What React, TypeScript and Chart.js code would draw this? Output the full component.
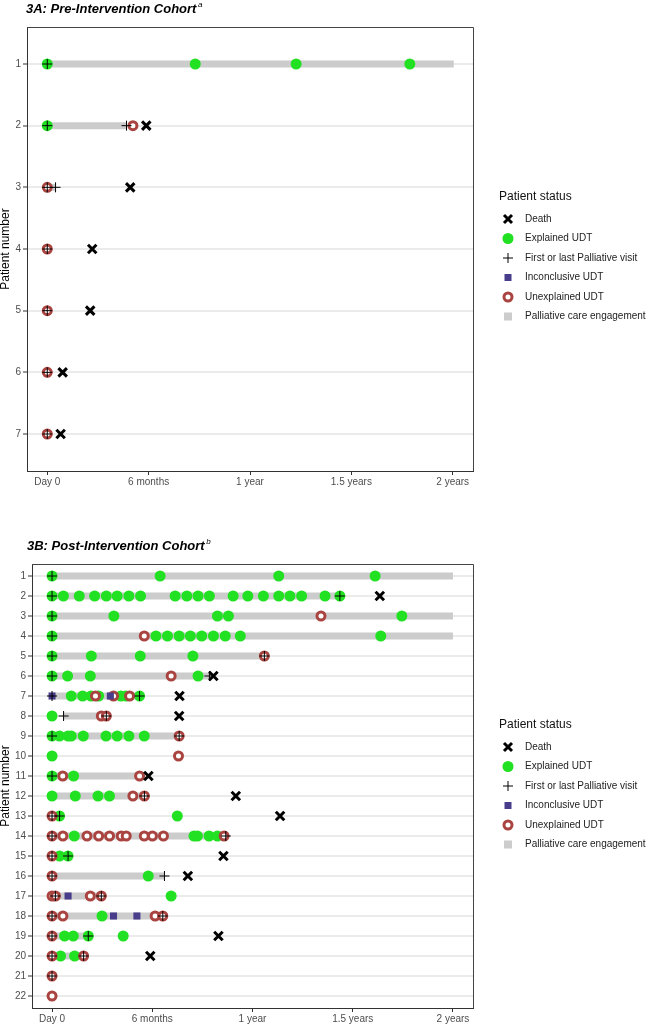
import React, { useEffect, useRef } from 'react';
import { Chart, registerables } from 'chart.js';

Chart.register(...registerables);

type Pt = [number, number]; // [patient, months since day 0]
type Span = [number, number, number]; // [patient, start month, end month]

const FONT = '"Liberation Sans", Arial, Helvetica, sans-serif';

const xTickValues = [0, 6, 12, 18, 24];
const xTickLabels = ['Day 0', '6 months', '1 year', '1.5 years', '2 years'];

const legendLabels = [
  'Death',
  'Explained UDT',
  'First or last Palliative visit',
  'Inconclusive UDT',
  'Unexplained UDT',
  'Palliative care engagement',
];

// ---------- 3A: Pre-Intervention Cohort ----------
const prePatients = [1, 2, 3, 4, 5, 6, 7];
const preEngagement: Span[] = [[1, 0, 24.06], [2, 0, 4.69], [3, 0, 0.49]];
const preExplained: Pt[] = [[1, 0], [1, 8.76], [1, 14.73], [1, 21.46], [2, 0]];
const preUnexplained: Pt[] = [[2, 5.07], [3, 0], [4, 0], [5, 0], [6, 0], [7, 0]];
const preInconclusive: Pt[] = [];
const preVisits: Pt[] = [[1, 0], [2, 0], [2, 4.69], [3, 0], [3, 0.49], [4, 0], [5, 0], [6, 0], [7, 0]];
const preDeaths: Pt[] = [[2, 5.86], [3, 4.91], [4, 2.66], [5, 2.54], [6, 0.91], [7, 0.79]];

// ---------- 3B: Post-Intervention Cohort ----------
const postPatients = [1, 2, 3, 4, 5, 6, 7, 8, 9, 10, 11, 12, 13, 14, 15, 16, 17, 18, 19, 20, 21, 22];
const postEngagement: Span[] = [
  [1, 0, 24], [2, 0, 17.23], [3, 0, 24], [4, 0, 24], [5, 0, 12.71], [6, 0, 9.42], [7, 0, 5.24],
  [8, 0.69, 3.25], [9, 0, 7.61], [11, 0, 5.24], [12, 0, 5.53], [13, 0, 0.45], [14, 0, 10.4],
  [15, 0, 0.96], [16, 0, 6.73], [17, 0.2, 2.95], [18, 0, 6.63], [19, 0, 2.17], [20, 0, 1.89],
];
const postExplained: Pt[] = [
  [1, 0], [1, 6.47], [1, 13.57], [1, 19.34],
  [2, 0], [2, 0.68], [2, 1.63], [2, 2.55], [2, 3.25], [2, 3.9], [2, 4.6], [2, 5.3], [2, 7.37], [2, 8.07],
  [2, 8.74], [2, 9.42], [2, 10.84], [2, 11.72], [2, 12.65], [2, 13.57], [2, 14.24], [2, 14.94], [2, 16.34], [2, 17.23],
  [3, 0], [3, 3.7], [3, 9.9], [3, 10.56], [3, 20.94],
  [4, 0], [4, 6.22], [4, 6.91], [4, 7.61], [4, 8.28], [4, 8.96], [4, 9.66], [4, 10.37], [4, 11.27], [4, 19.68],
  [5, 0], [5, 2.35], [5, 5.28], [5, 8.43],
  [6, 0], [6, 0.93], [6, 2.29], [6, 8.74],
  [7, 1.15], [7, 1.83], [7, 2.33], [7, 2.79], [7, 4.12], [7, 4.42], [7, 5.24],
  [8, 0],
  [9, 0], [9, 0.45], [9, 0.96], [9, 1.15], [9, 1.87], [9, 3.23], [9, 3.9], [9, 4.6], [9, 5.52],
  [10, 0],
  [11, 0], [11, 1.29],
  [12, 0], [12, 1.39], [12, 2.75], [12, 3.44],
  [13, 0.45], [13, 7.5],
  [14, 1.33], [14, 8.5], [14, 8.7], [14, 9.4], [14, 9.9],
  [15, 0.45], [15, 0.96],
  [16, 5.76],
  [17, 7.13],
  [18, 2.99],
  [19, 0.75], [19, 1.27], [19, 2.17], [19, 4.26],
  [20, 0.51], [20, 1.35],
];
const postUnexplained: Pt[] = [
  [3, 16.1], [4, 5.52], [5, 12.71], [6, 7.13], [7, 2.6], [7, 3.68], [7, 4.64], [8, 2.95], [8, 3.25],
  [9, 7.61], [10, 7.57], [11, 0.64], [11, 5.24], [12, 4.84], [12, 5.53], [13, 0],
  [14, 0], [14, 0.65], [14, 2.09], [14, 2.79], [14, 3.44], [14, 4.14], [14, 4.44], [14, 5.52], [14, 6.01],
  [14, 6.67], [14, 10.3], [15, 0], [16, 0], [17, 0], [17, 0.2], [17, 2.29], [17, 2.95],
  [18, 0], [18, 0.65], [18, 6.17], [18, 6.63], [19, 0], [20, 0], [20, 1.89], [21, 0], [22, 0],
];
const postInconclusive: Pt[] = [[7, 0], [7, 3.49], [17, 0.96], [18, 3.68], [18, 5.08]];
const postVisits: Pt[] = [
  [1, 0], [2, 0], [2, 17.23], [3, 0], [4, 0], [5, 0], [5, 12.71], [6, 0], [6, 9.42], [7, 0], [7, 5.24],
  [8, 0.69], [8, 3.25], [9, 0], [9, 7.61], [11, 0], [12, 5.53], [13, 0], [13, 0.45], [14, 0], [14, 10.4],
  [15, 0], [15, 0.96], [16, 0], [16, 6.73], [17, 0.2], [17, 2.95], [18, 0], [18, 6.63], [19, 0], [19, 2.17],
  [20, 0], [20, 1.89], [21, 0],
];
const postDeaths: Pt[] = [
  [2, 19.62], [6, 9.66], [7, 7.63], [8, 7.61], [11, 5.77], [12, 11.0], [13, 13.65], [15, 10.26],
  [16, 8.13], [19, 9.96], [20, 5.88],
];

// ---------- styles ----------
const GREEN = '#22e022';
const RED = '#a94440';
const BLUE = '#483d8b';
const GRAY = '#cccccc';

const toXY = (arr: Pt[]) => arr.map(([p, t]) => ({ x: t, y: p }));

const decorPlugin = {
  id: 'decor',
  afterDraw(chart: any, _args: any, opts: any) {
    const ctx: CanvasRenderingContext2D = chart.ctx;
    const ca = chart.chartArea;
    ctx.save();
    // top & right frame
    ctx.strokeStyle = '#444';
    ctx.lineWidth = 1;
    ctx.beginPath();
    ctx.moveTo(Math.round(ca.left), Math.round(ca.top) + 0.5);
    ctx.lineTo(Math.round(ca.right) + 0.5, Math.round(ca.top) + 0.5);
    ctx.lineTo(Math.round(ca.right) + 0.5, Math.round(ca.bottom));
    ctx.stroke();

    // panel title
    ctx.fillStyle = '#000';
    ctx.textBaseline = 'middle';
    ctx.textAlign = 'left';
    ctx.font = `italic bold 13px ${FONT}`;
    ctx.fillText(opts.title, opts.titleX, opts.titleY);
    const w = ctx.measureText(opts.title).width;
    ctx.font = `italic 8px ${FONT}`;
    ctx.fillText(opts.sup, opts.titleX + w + 1.5, opts.titleY - 4);

    // legend
    const lx = opts.legendX;
    let y = opts.legendY;
    ctx.font = `12px ${FONT}`;
    ctx.fillStyle = '#111';
    ctx.fillText('Patient status', lx, y);
    y += 22;
    const sx = lx + 9;
    const tx = lx + 26;
    legendLabels.forEach((label, i) => {
      const cy = y + i * 19.5;
      ctx.save();
      if (i === 0) {
        ctx.strokeStyle = '#000';
        ctx.lineWidth = 3;
        ctx.beginPath();
        ctx.moveTo(sx - 4, cy - 4); ctx.lineTo(sx + 4, cy + 4);
        ctx.moveTo(sx - 4, cy + 4); ctx.lineTo(sx + 4, cy - 4);
        ctx.stroke();
      } else if (i === 1) {
        ctx.fillStyle = GREEN;
        ctx.beginPath(); ctx.arc(sx, cy, 5.5, 0, Math.PI * 2); ctx.fill();
      } else if (i === 2) {
        ctx.strokeStyle = '#000';
        ctx.lineWidth = 1;
        ctx.beginPath();
        ctx.moveTo(sx - 5, cy); ctx.lineTo(sx + 5, cy);
        ctx.moveTo(sx, cy - 5); ctx.lineTo(sx, cy + 5);
        ctx.stroke();
      } else if (i === 3) {
        ctx.fillStyle = BLUE;
        ctx.fillRect(sx - 3.5, cy - 3.5, 7, 7);
      } else if (i === 4) {
        ctx.fillStyle = '#fff';
        ctx.strokeStyle = RED;
        ctx.lineWidth = 3;
        ctx.beginPath(); ctx.arc(sx, cy, 4, 0, Math.PI * 2); ctx.fill(); ctx.stroke();
      } else {
        ctx.fillStyle = GRAY;
        ctx.fillRect(sx - 4, cy - 4, 8, 8);
      }
      ctx.restore();
      ctx.font = `10px ${FONT}`;
      ctx.fillStyle = '#222';
      ctx.fillText(label, tx, cy);
    });
    ctx.restore();
  },
};

interface PanelData {
  patients: number[];
  engagement: Span[];
  explained: Pt[];
  unexplained: Pt[];
  inconclusive: Pt[];
  visits: Pt[];
  deaths: Pt[];
  axisWidth: number;
  padding: { left: number; top: number; right: number; bottom: number };
  title: string;
  sup: string;
  titleX: number;
  titleY: number;
  legendX: number;
  legendY: number;
}

function buildConfig(d: PanelData): any {
  const bars = d.engagement.map(([p, s, e]) => ({
    type: 'line',
    data: [{ x: s, y: p }, { x: e, y: p }],
    borderColor: GRAY,
    borderWidth: 7,
    borderCapStyle: 'butt',
    pointRadius: 0,
    showLine: true,
    order: 10,
  }));
  const datasets: any[] = [
    ...bars,
    {
      label: 'Explained UDT',
      data: toXY(d.explained),
      pointStyle: 'circle',
      pointRadius: 5.5,
      pointBackgroundColor: GREEN,
      pointBorderWidth: 0,
      order: 5,
    },
    {
      label: 'Unexplained UDT',
      data: toXY(d.unexplained),
      pointStyle: 'circle',
      pointRadius: 4,
      pointBackgroundColor: '#ffffff',
      pointBorderColor: RED,
      pointBorderWidth: 3,
      order: 4,
    },
    {
      label: 'Inconclusive UDT',
      data: toXY(d.inconclusive),
      pointStyle: 'rect',
      pointRadius: 5,
      pointBackgroundColor: BLUE,
      pointBorderWidth: 0,
      order: 3,
    },
    {
      label: 'First or last Palliative visit',
      data: toXY(d.visits),
      pointStyle: 'cross',
      pointRadius: 5,
      pointBorderColor: '#000',
      pointBorderWidth: 1,
      order: 2,
    },
    {
      label: 'Death',
      data: toXY(d.deaths),
      pointStyle: 'crossRot',
      pointRadius: 6,
      pointBorderColor: '#000',
      pointBorderWidth: 3,
      order: 1,
    },
  ];
  const n = d.patients.length;
  return {
    type: 'scatter',
    data: { datasets },
    plugins: [decorPlugin],
    options: {
      animation: false,
      responsive: false,
      devicePixelRatio: 1,
      events: [],
      layout: { padding: d.padding },
      plugins: {
        legend: { display: false },
        tooltip: { enabled: false },
        decor: {
          title: d.title,
          sup: d.sup,
          titleX: d.titleX,
          titleY: d.titleY,
          legendX: d.legendX,
          legendY: d.legendY,
        },
      },
      scales: {
        x: {
          type: 'linear',
          min: -1.2,
          max: 25.2,
          afterBuildTicks: (scale: any) => {
            scale.ticks = xTickValues.map((v) => ({ value: v }));
          },
          afterFit: (scale: any) => {
            scale.height = 16;
          },
          ticks: {
            autoSkip: false,
            maxRotation: 0,
            padding: 1,
            color: '#4d4d4d',
            font: { family: FONT, size: 10 },
            callback: (v: number) => {
              const i = xTickValues.indexOf(v);
              return i >= 0 ? xTickLabels[i] : '';
            },
          },
          grid: {
            drawOnChartArea: false,
            drawTicks: true,
            tickLength: 4,
            tickColor: '#333',
            tickWidth: 1,
            color: '#333',
          },
          border: { display: true, color: '#333', width: 1 },
        },
        y: {
          type: 'linear',
          reverse: true,
          min: 0.4,
          max: n + 0.6,
          afterBuildTicks: (scale: any) => {
            scale.ticks = d.patients.map((v) => ({ value: v }));
          },
          afterFit: (scale: any) => {
            scale.width = d.axisWidth;
          },
          ticks: {
            autoSkip: false,
            padding: 2,
            color: '#4d4d4d',
            font: { family: FONT, size: 10 },
            callback: (v: number) => String(v),
          },
          grid: {
            color: '#ebebeb',
            lineWidth: 2,
            drawTicks: true,
            tickLength: 4,
            tickColor: '#333',
            tickWidth: 1,
          },
          border: { display: true, color: '#333', width: 1 },
          title: {
            display: true,
            text: 'Patient number',
            color: '#000',
            padding: 0,
            font: { family: FONT, size: 12, lineHeight: 1 },
          },
        },
      },
    },
  };
}

const prePanel: PanelData = {
  patients: prePatients,
  engagement: preEngagement,
  explained: preExplained,
  unexplained: preUnexplained,
  inconclusive: preInconclusive,
  visits: preVisits,
  deaths: preDeaths,
  axisWidth: 27,
  padding: { left: 0, top: 27, right: 177, bottom: 13 },
  title: '3A: Pre-Intervention Cohort',
  sup: 'a',
  titleX: 26,
  titleY: 9,
  legendX: 499,
  legendY: 197,
};

const postPanel: PanelData = {
  patients: postPatients,
  engagement: postEngagement,
  explained: postExplained,
  unexplained: postUnexplained,
  inconclusive: postInconclusive,
  visits: postVisits,
  deaths: postDeaths,
  axisWidth: 32,
  padding: { left: 0, top: 64, right: 177, bottom: 2 },
  title: '3B: Post-Intervention Cohort',
  sup: 'b',
  titleX: 27,
  titleY: 46,
  legendX: 499,
  legendY: 225,
};

function Panel({ panel, top, height }: { panel: PanelData; top: number; height: number }) {
  const ref = useRef<HTMLCanvasElement | null>(null);
  useEffect(() => {
    if (!ref.current) return;
    const chart = new Chart(ref.current, buildConfig(panel));
    return () => chart.destroy();
  }, [panel]);
  return (
    <div style={{ position: 'absolute', left: 0, top, width: 650, height }}>
      <canvas ref={ref} width={650} height={height} style={{ display: 'block', width: 650, height }} />
    </div>
  );
}

export default function App() {
  return (
    <div style={{ position: 'absolute', left: 0, top: 0, width: 650, height: 1026, background: '#fff' }}>
      <Panel panel={prePanel} top={0} height={500} />
      <Panel panel={postPanel} top={500} height={526} />
    </div>
  );
}
